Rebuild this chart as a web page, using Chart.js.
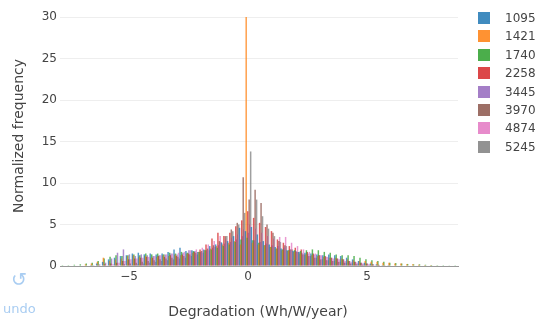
<!DOCTYPE html>
<html>
<head>
<meta charset="utf-8">
<script src="https://cdn.jsdelivr.net/npm/chart.js@4.4.1/dist/chart.umd.min.js"></script>
<style>
  html, body { margin: 0; padding: 0; background: #fff; }
  #wrap { position: relative; width: 537px; height: 323px; overflow: hidden; font-family: "DejaVu Sans", Verdana, sans-serif; }
  #c { position: absolute; left: 0; top: 0; }
  .legend { position: absolute; left: 478px; top: 0; }
  .item { position: absolute; left: 0; height: 12px; white-space: nowrap; }
  .sw { position: absolute; left: 0; top: 0; width: 12px; height: 12px; }
  .lab { position: absolute; left: 27px; top: -3px; font-size: 12px; color: #444; line-height: 18px; }
  .ytitle { position: absolute; left: 18px; top: 136px; transform: translate(-50%, -50%) rotate(-90deg); font-size: 14px; color: #444; white-space: nowrap; }
  .xtitle { position: absolute; left: 258px; top: 303px; transform: translateX(-50%); font-size: 14px; color: #444; white-space: nowrap; }
  .undo { position: absolute; left: 3px; top: 301px; font-size: 13px; color: #a9cdf2; }
  .undoicon { position: absolute; left: 11px; top: 268px; font-size: 19px; color: #a9cdf2; }
</style>
</head>
<body>
<div id="wrap">
  <canvas id="c" width="537" height="323"></canvas>
  <div class="ytitle">Normalized frequency</div>
  <div class="xtitle">Degradation (Wh/W/year)</div>
  <div class="undoicon">&#x21BA;</div>
  <div class="undo">undo</div>
  <div class="legend" id="legend"></div>
</div>
<script>
// Bin centers (Degradation, Wh/W/year)
const binCenters = [
  -7.75,-7.5,-7.25,-7.0,-6.75,-6.5,-6.25,-6.0,-5.75,-5.5,-5.25,
  -5.0,-4.75,-4.5,-4.25,-4.0,-3.75,-3.5,-3.25,-3.0,-2.75,-2.5,-2.25,
  -2.0,-1.75,-1.5,-1.25,-1.0,-0.75,-0.5,-0.25,0,0.25,0.5,0.75,
  1.0,1.25,1.5,1.75,2.0,2.25,2.5,2.75,3.0,3.25,3.5,3.75,
  4.0,4.25,4.5,4.75,5.0,5.25,5.5,5.75,6.0,6.25,6.5,6.75,
  7.0,7.25,7.5,7.75,8.0,8.25,8.5,8.75
];
const seriesNames = ["1095","1421","1740","2258","3445","3970","4874","5245"];

const s1095 = [
  0,0,0,0,0,0.1,0.3,0.5,0.8,1.0,1.2,
  1.3,1.5,1.6,1.4,1.5,1.4,1.5,1.7,2.0,2.2,1.8,1.9,
  1.7,2.0,2.4,2.6,2.8,3.0,3.6,4.6,4.2,4.7,3.8,3.0,
  2.6,2.3,2.1,1.9,1.8,1.7,1.6,1.5,1.4,1.3,1.4,1.3,
  1.2,1.0,0.8,0.6,0.4,0.3,0.2,0.1,0.1,0,0,0,
  0,0,0,0,0,0,0,0
];
const s1421 = [
  0,0,0,0,0.2,0.3,0.5,1.0,0.6,0.8,0.9,
  1.2,1.3,1.1,1.2,1.0,1.1,1.3,1.2,1.4,1.3,1.5,1.6,
  1.7,1.9,2.1,2.4,2.6,2.8,3.0,2.6,30,2.8,2.6,2.5,
  2.3,2.1,1.9,1.8,1.7,1.5,1.4,1.3,1.2,1.1,1.0,1.0,
  0.9,0.8,0.7,0.6,0.6,0.5,0.5,0.4,0.4,0.3,0.3,0.2,
  0.2,0.15,0.1,0.1,0.05,0,0,0
];
const s1740 = [
  0.1,0.1,0.15,0.2,0.3,0.4,0.6,0.9,1.1,1.3,1.2,
  1.3,1.4,1.3,1.5,1.4,1.5,1.4,1.6,1.5,1.7,1.6,1.8,
  1.7,1.9,2.0,2.2,2.4,2.6,2.9,3.2,3.4,3.1,2.8,2.5,
  2.3,2.1,2.0,1.9,1.9,1.8,1.9,2.0,1.9,1.7,1.6,1.4,
  1.3,1.3,1.2,1.0,0.8,0.7,0.6,0.5,0.4,0.35,0.3,0.25,
  0.2,0.2,0.15,0.12,0.1,0.1,0.08,0.08
];
const s2258 = [
  0,0,0,0,0,0,0.1,0.2,0.3,0.4,0.6,
  0.8,0.9,1.0,1.1,1.0,1.2,1.1,1.3,1.2,1.4,1.5,1.7,
  2.0,2.6,3.3,4.0,3.6,4.0,4.8,5.5,6.6,5.8,5.2,4.7,
  4.2,3.2,2.8,2.4,2.2,2.0,1.7,1.5,1.3,1.2,1.0,0.9,
  0.8,0.6,0.5,0.4,0.3,0.2,0.15,0.1,0,0,0,0,
  0,0,0,0,0,0,0,0
];
const s3445 = [
  0,0,0,0,0,0.1,0.2,0.4,0.9,1.6,2.0,
  1.4,1.2,1.4,1.3,1.2,1.3,1.4,1.5,1.4,1.6,1.9,1.8,
  1.7,1.9,2.2,2.5,2.7,2.9,3.2,3.6,4.0,3.1,2.9,2.7,
  2.5,2.4,2.2,2.0,1.8,1.6,1.5,1.4,1.3,1.1,1.0,0.9,
  0.8,0.6,0.5,0.4,0.3,0.2,0.1,0,0,0,0,0,
  0,0,0,0,0,0,0,0
];
const s3970 = [
  0,0,0,0,0,0,0,0,0,0.1,0.2,
  0.3,0.4,0.5,0.6,0.7,0.8,0.9,1.0,1.1,1.2,1.4,1.6,
  1.8,2.1,2.5,3.0,3.6,4.4,5.2,10.7,8.0,9.2,7.6,5.0,
  4.0,3.0,2.5,2.0,1.7,1.4,1.2,1.0,0.8,0.7,0.6,0.5,
  0.4,0.3,0.2,0.15,0.1,0,0,0,0,0,0,0,
  0,0,0,0,0,0,0,0
];
const s4874 = [
  0,0,0,0,0,0,0,0.1,0.2,0.4,0.6,
  0.8,0.9,1.0,1.1,1.2,1.3,1.4,1.5,1.6,1.7,1.9,2.0,
  2.2,2.6,3.0,3.6,3.2,3.4,3.8,4.4,5.0,4.5,4.0,3.6,
  3.3,3.5,3.5,2.8,2.4,2.0,1.7,1.5,1.3,1.1,0.9,0.8,
  0.6,0.5,0.4,0.3,0.2,0.1,0,0,0,0,0,0,
  0,0,0,0,0,0,0,0
];
const s5245 = [
  0,0,0,0,0,0,0,0,0,0,0,
  0.1,0.2,0.3,0.4,0.5,0.6,0.7,0.8,0.9,1.0,1.2,1.4,
  1.6,1.9,2.3,2.9,3.6,4.2,5.0,6.4,13.8,8.0,6.0,4.5,
  3.6,2.9,2.4,2.0,1.7,1.4,1.2,1.0,0.8,0.7,0.6,0.5,
  0.4,0.3,0.2,0.15,0.1,0,0,0,0,0,0,0,
  0,0,0,0,0,0,0,0
];
const seriesValues = [s1095, s1421, s1740, s2258, s3445, s3970, s4874, s5245];
const xTickValues = [-5, 0, 5];
const yTickValues = [0, 5, 10, 15, 20, 25, 30];

const colors = ["#1f77b4","#ff7f0e","#2ca02c","#d62728","#9467bd","#8c564b","#e377c2","#7f7f7f"];
function rgba(hex, a) {
  const n = parseInt(hex.slice(1), 16);
  return `rgba(${(n>>16)&255},${(n>>8)&255},${n&255},${a})`;
}

const datasets = seriesNames.map((name, k) => ({
  label: name,
  data: binCenters.map((x, i) => ({ x: x, y: seriesValues[k][i] })),
  backgroundColor: rgba(colors[k], 0.75),
  borderWidth: 0,
  categoryPercentage: 1.0,
  barPercentage: 2.0
}));

// HTML legend
const leg = document.getElementById('legend');
seriesNames.forEach((name, k) => {
  const it = document.createElement('div');
  it.className = 'item';
  it.style.top = (12 + 18.4 * k) + 'px';
  it.innerHTML = `<div class="sw" style="background:${rgba(colors[k],0.85)}"></div><div class="lab">${name}</div>`;
  leg.appendChild(it);
});

const tickFont = { family: '"DejaVu Sans", Verdana, sans-serif', size: 12 };

new Chart(document.getElementById('c'), {
  type: 'bar',
  data: { datasets },
  options: {
    responsive: false,
    animation: false,
    layout: { padding: { top: 17, right: 79, bottom: 0, left: 0 } },
    plugins: { legend: { display: false }, tooltip: { enabled: false } },
    scales: {
      x: {
        type: 'linear',
        min: -7.9,
        max: 8.82,
        offset: false,
        afterFit: s => { s.height = 57; },
        afterBuildTicks: s => { s.ticks = xTickValues.map(v => ({ value: v })); },
        ticks: {
          padding: 4,
          color: '#444',
          font: tickFont,
          callback: v => (v < 0 ? '\u2212' + Math.abs(v) : String(v))
        },
        grid: { display: false, drawTicks: false },
        border: { display: true, color: '#999', width: 1 }
      },
      y: {
        min: 0,
        max: 30,
        afterFit: s => { s.width = 60; },
        afterBuildTicks: s => { s.ticks = yTickValues.map(v => ({ value: v })); },
        ticks: {
          padding: 3,
          color: '#444',
          font: tickFont
        },
        grid: {
          drawTicks: false,
          color: ctx => (ctx.tick && ctx.tick.value === 0 ? 'rgba(0,0,0,0)' : '#eeeeee'),
          lineWidth: 1
        },
        border: { display: false }
      }
    }
  }
});
</script>
</body>
</html>
